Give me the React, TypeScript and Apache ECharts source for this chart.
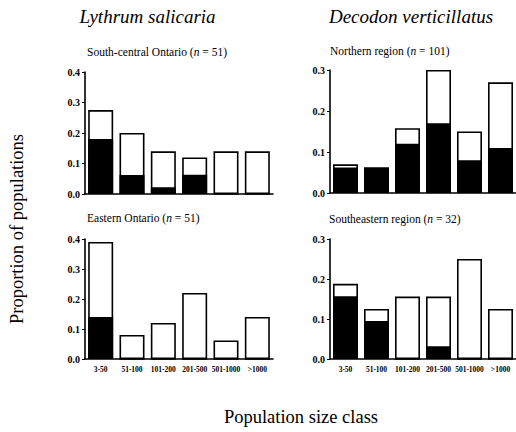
import React, { useEffect, useRef } from "react";
import * as echarts from "echarts";

const categories = ["3-50", "51-100", "101-200", "201-500", "501-1000", ">1000"];

// Lythrum salicaria — South-central Ontario (n = 51)
const scOntarioTotal = [0.275, 0.2, 0.14, 0.12, 0.14, 0.14];
const scOntarioBlack = [0.18, 0.062, 0.022, 0.063, 0, 0];
// Lythrum salicaria — Eastern Ontario (n = 51)
const eOntarioTotal = [0.39, 0.08, 0.12, 0.22, 0.062, 0.14];
const eOntarioBlack = [0.14, 0, 0, 0, 0, 0];
// Decodon verticillatus — Northern region (n = 101)
const northernTotal = [0.07, 0.062, 0.158, 0.3, 0.15, 0.27];
const northernBlack = [0.062, 0.062, 0.12, 0.17, 0.08, 0.11];
// Decodon verticillatus — Southeastern region (n = 32)
const southeastTotal = [0.188, 0.125, 0.156, 0.156, 0.25, 0.125];
const southeastBlack = [0.157, 0.095, 0, 0.032, 0, 0];

const panelTitles = [
  "South-central Ontario ({i|n} = 51)",
  "Northern region ({i|n} = 101)",
  "Eastern Ontario ({i|n} = 51)",
  "Southeastern region ({i|n} = 32)",
];
const yMax = [0.4, 0.3, 0.4, 0.3];

const SERIF = "'Liberation Serif', 'Times New Roman', serif";

export default function App() {
  const ref = useRef<HTMLDivElement>(null);
  useEffect(() => {
    if (!ref.current) return;
    const chart = echarts.init(ref.current, null, { renderer: "svg" });
    const grids = [
      { left: 85, top: 72, width: 188, height: 122 },
      { left: 330, top: 70, width: 188, height: 123 },
      { left: 85, top: 239, width: 188, height: 120 },
      { left: 330, top: 239, width: 188, height: 120 },
    ];
    const totals = [scOntarioTotal, northernTotal, eOntarioTotal, southeastTotal];
    const blacks = [scOntarioBlack, northernBlack, eOntarioBlack, southeastBlack];
    const titlePos = [
      { left: 87, top: 46 },
      { left: 330, top: 45 },
      { left: 87, top: 212 },
      { left: 329, top: 213 },
    ];
    const option: any = {
      animation: false,
      backgroundColor: "#fff",
      title: panelTitles.map((t, i) => ({
        text: t,
        left: titlePos[i].left,
        top: titlePos[i].top,
        padding: 0,
        textStyle: {
          fontFamily: SERIF,
          fontSize: 11.5,
          fontWeight: "normal",
          color: "#000",
          rich: {
            i: { fontFamily: SERIF, fontSize: 11.5, fontStyle: "italic", color: "#000" },
          },
        },
      })),
      grid: grids,
      xAxis: grids.map((_, i) => ({
        type: "category",
        gridIndex: i,
        data: categories,
        boundaryGap: true,
        axisLine: { lineStyle: { color: "#000", width: 1.6 } },
        axisTick: { alignWithLabel: true, length: 3, lineStyle: { color: "#000", width: 1 } },
        axisLabel: {
          show: i >= 2,
          interval: 0,
          fontFamily: SERIF,
          fontSize: 7.5,
          fontWeight: "bold",
          color: "#000",
          margin: 6,
        },
      })),
      yAxis: grids.map((_, i) => ({
        type: "value",
        gridIndex: i,
        min: 0,
        max: yMax[i],
        interval: 0.1,
        axisLine: { show: true, lineStyle: { color: "#000", width: 1.6 } },
        axisTick: { show: true, length: 3, lineStyle: { color: "#000", width: 1 } },
        splitLine: { show: false },
        axisLabel: {
          fontFamily: SERIF,
          fontSize: 10,
          fontWeight: "bold",
          color: "#000",
          margin: 5,
          formatter: (v: number) => v.toFixed(1),
        },
      })),
      series: grids.flatMap((_, i) => [
        {
          type: "bar",
          xAxisIndex: i,
          yAxisIndex: i,
          data: totals[i],
          barWidth: 25,
          barGap: "-100%",
          itemStyle: { color: "#fff", borderColor: "#000", borderWidth: 1.6 },
        },
        {
          type: "bar",
          xAxisIndex: i,
          yAxisIndex: i,
          data: blacks[i],
          barWidth: 25,
          barGap: "-100%",
          itemStyle: { color: "#000", borderColor: "#000", borderWidth: 1.6 },
        },
      ]),
      graphic: [
        {
          type: "text",
          x: 147.5,
          y: 16,
          style: {
            text: "Lythrum salicaria",
            font: `italic 19px ${SERIF}`,
            fill: "#000",
            align: "center",
            verticalAlign: "middle",
          },
        },
        {
          type: "text",
          x: 411,
          y: 16,
          style: {
            text: "Decodon verticillatus",
            font: `italic 19px ${SERIF}`,
            fill: "#000",
            align: "center",
            verticalAlign: "middle",
          },
        },
        {
          type: "text",
          x: 17,
          y: 229,
          rotation: Math.PI / 2,
          style: {
            text: "Proportion of populations",
            font: `18.5px ${SERIF}`,
            fill: "#000",
            align: "center",
            verticalAlign: "middle",
          },
        },
        {
          type: "text",
          x: 301,
          y: 417,
          style: {
            text: "Population size class",
            font: `18.5px ${SERIF}`,
            fill: "#000",
            align: "center",
            verticalAlign: "middle",
          },
        },
      ],
    };
    chart.setOption(option);
    return () => chart.dispose();
  }, []);
  return (
    <div
      ref={ref}
      style={{ position: "fixed", left: 0, top: 0, width: 516, height: 432, background: "#fff" }}
    />
  );
}
